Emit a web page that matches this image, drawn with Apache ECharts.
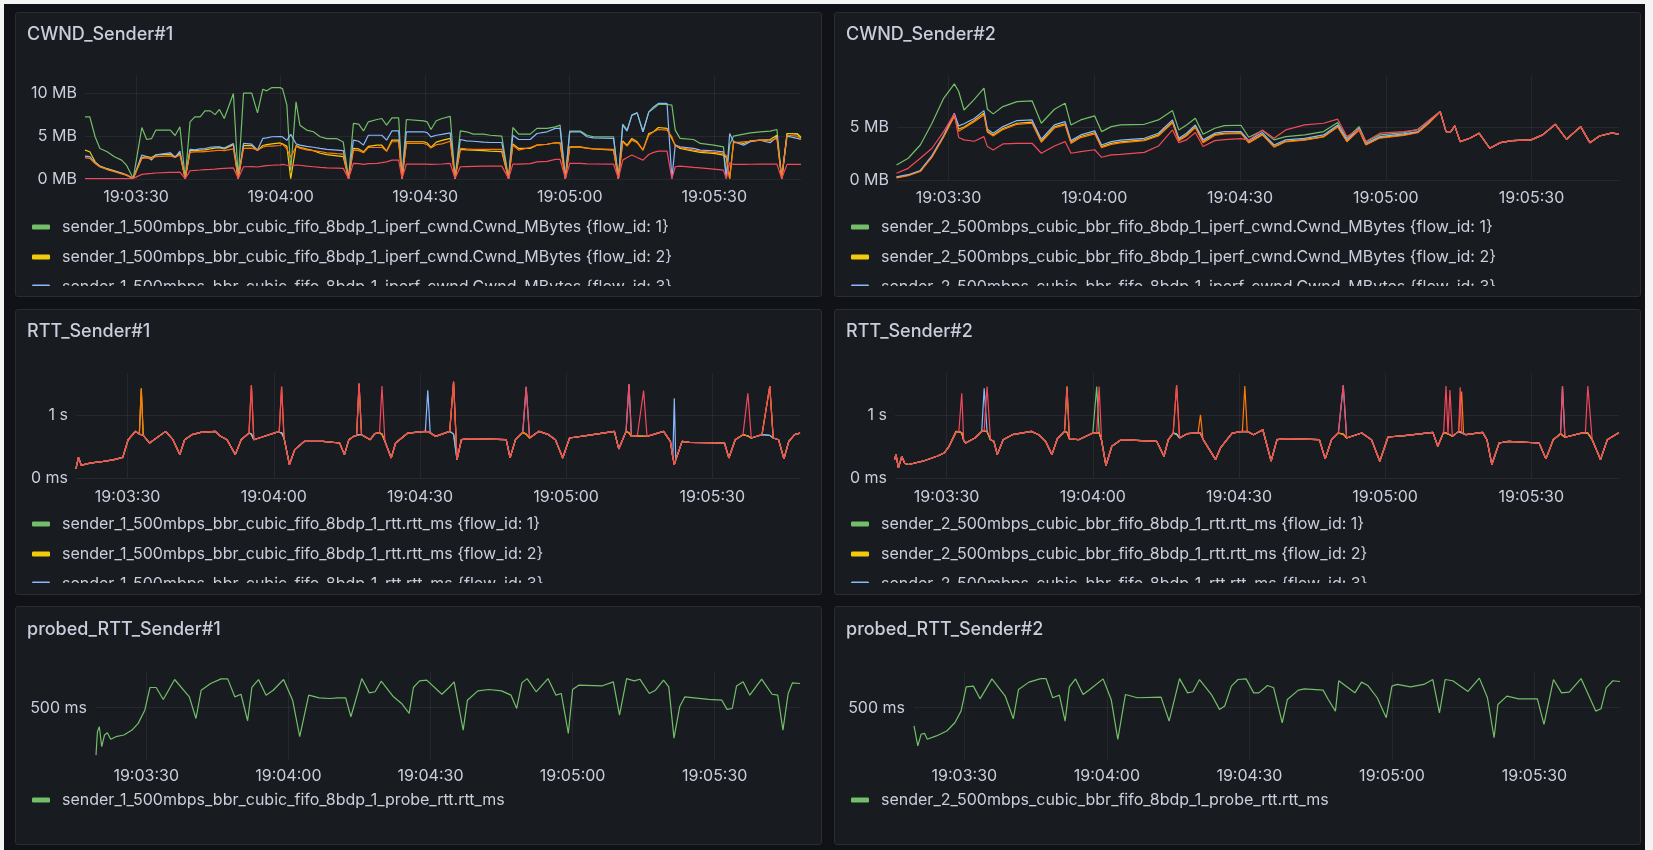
<!DOCTYPE html>
<html>
<head>
<meta charset="utf-8">
<title>Sender dashboard</title>
<script src="https://cdn.jsdelivr.net/npm/echarts@6/dist/echarts.min.js"></script>
<style>
  html, body { margin: 0; padding: 0; width: 1653px; height: 850px; overflow: hidden; background: #f4f4f5; }
  #board { position: absolute; left: 4px; top: 4px; width: 1641px; height: 846px; background: #111217; }
  .panel { position: absolute; box-sizing: border-box; background: #181b1f; border: 1px solid #2a2c31; border-radius: 3px; overflow: hidden; }
  .chart { position: absolute; left: 0; top: 0; width: 805px; }
</style>
</head>
<body>
<div id="board"></div>
<div class="panel" style="left:15px;top:12px;width:807px;height:285px"><div class="chart" id="p1" style="height:273px"></div></div>
<div class="panel" style="left:834px;top:12px;width:807px;height:285px"><div class="chart" id="p2" style="height:273px"></div></div>
<div class="panel" style="left:15px;top:309px;width:807px;height:286px"><div class="chart" id="p3" style="height:273px"></div></div>
<div class="panel" style="left:834px;top:309px;width:807px;height:286px"><div class="chart" id="p4" style="height:273px"></div></div>
<div class="panel" style="left:15px;top:606px;width:807px;height:239px"><div class="chart" id="p5" style="height:237px"></div></div>
<div class="panel" style="left:834px;top:606px;width:807px;height:239px"><div class="chart" id="p6" style="height:237px"></div></div>
<script>
// all times are seconds after 19:03:00

// ---- CWND sender 1 (MB) ----
const cwnd1Time = [19.4,20.4,21.5,22.5,24.0,25.5,27.0,28.0,29.4,31.2,32.2,33.2,34.1,37.1,38.1,39.1,40.2,41.2,42.2,43.3,
  44.3,45.4,46.4,47.3,48.3,50.2,51.2,52.3,54.0,55.2,56.3,57.1,58.2,59.9,60.4,61.3,62.1,63.2,64.0,65.4,
  66.8,68.2,69.6,71.7,73.0,74.1,75.1,76.2,77.2,78.2,80.0,81.0,82.0,83.1,84.5,85.2,86.1,89.7,90.4,91.2,
  92.3,93.5,95.2,96.2,97.3,98.6,100.0,102.1,103.5,105.9,107.3,108.2,109.4,111.8,113.2,115.3,117.0,118.0,119.1,120.0,
  122.2,123.6,124.9,129.1,130.1,131.0,131.9,132.9,134.0,135.2,136.4,137.4,138.4,140.2,141.2,141.9,142.9,145.7,147.1,149.9,
  151.9,152.5,153.2,154.0,156.1,157.5,159.5,161.6,163.0,164.0,165.1,167.2,168.0];
const cwnd1Flow1 = [7.24,7.24,4.92,3.56,3.17,2.59,2.2,1.62,0.05,6.0, 4.6,4.7,5.7,5.7,5.07,6.08,0.05,6.66,7.24,7.24,
  7.94,7.94,7.5,8.1,7.05,9.96,0.05,10.0,10.0,7.7, 10.46,10.27,10.65,10.65,10.5,8.6,1.0,8.99,6.27,5.7,
  5.5,4.92,4.7,4.7,4.3,0.05,6.47,6.4,5.6,6.66, 6.93,7.05,6.27,7.13,7.13,0.05,6.93,6.78,6.66,5.77,
  6.78,7.05,7.3,0.05,5.6,5.5,5.23,5.23,5.1,5.0, 0.05,6.0,5.23,5.23,5.9,5.9,6.08,6.27,0.05,5.58,
  5.58,5.1,4.92,4.92,0.05,6.4,5.7,7.44,7.7,5.5, 7.8,8.2,8.68,8.68,8.6,5.7,4.73,4.6,4.14,3.95,
  3.75,0.3,4.0,5.0,5.23,5.38,5.5,5.58,5.77,0.05, 5.3,5.3,4.9];
const cwnd1Flow2 = [3.37,3.17,2.0,1.5,1.2,0.95,0.7,0.5,0.05,2.5, 2.6,2.5,2.8,2.9,2.6,3.0,0.05,3.3,3.3,3.35,
  3.4,3.5,3.6,3.65,3.5,4.0,0.05,3.9,3.9,3.3, 3.9,4.0,4.1,4.2,4.1,3.8,0.05,3.9,3.7,3.5,
  3.3,3.0,2.85,2.7,2.6,0.05,3.56,3.5,3.17,3.8, 3.95,3.95,3.25,4.53,4.53,0.05,4.34,4.34,4.2,3.67,
  4.3,4.5,4.73,0.05,3.45,3.4,3.35,3.3,3.25,3.2, 0.05,4.07,3.56,3.56,3.95,4.05,4.22,4.22,0.05,3.75,
  3.75,3.6,3.5,3.37,0.05,4.45,3.95,4.73,4.34,3.37, 5.3,5.5,6.0,5.9,4.7,3.95,3.56,3.25,3.1,2.98,
  2.79,2.5,0.05,4.34,4.14,4.45,4.53,4.6,5.1,0.05, 5.3,5.23,4.8];
const cwnd1Flow3 = [2.67,2.6,1.9,1.45,1.15,0.9,0.65,0.45,0.05,2.8, 2.6,2.2,2.8,3.06,2.5,3.25,0.05,3.45,3.4,3.5,
  3.55,3.7,3.75,3.75,3.6,4.14,0.05,4.14,4.07,3.37, 4.73,4.8,4.92,4.95,4.9,4.5,5.2,4.1,3.95,3.8,
  3.7,3.56,3.45,3.37,3.3,0.05,4.53,4.4,3.95,5.1, 5.1,5.1,4.53,5.6,5.6,0.05,5.5,5.5,5.4,4.9,
  5.1,5.2,5.38,0.05,4.6,4.45,4.4,4.3,4.25,4.25, 0.05,5.1,4.6,4.6,5.3,5.5,5.9,5.9,0.05,5.5,
  5.5,4.92,4.8,4.73,0.05,6.27,5.58,7.44,7.7,5.5, 7.8,8.4,8.8,8.8,0.05,3.95,3.75,3.56,3.37,3.29,
  3.17,0.05,5.3,4.34,3.95,4.34,4.53,4.22,4.92,0.05, 5.0,4.73,4.6];
const cwnd1Flow4 = [2.5,2.4,1.8,1.4,1.1,0.85,0.6,0.45,0.05,2.4, 2.45,2.4,2.6,2.7,2.5,2.8,0.05,3.1,3.15,3.15,
  3.2,3.25,3.3,3.35,3.3,3.5,0.05,3.56,3.6,3.37, 3.7,3.83,3.83,3.9,4.07,3.5,2.5,3.8,3.6,3.4,
  3.3,3.2,3.05,2.95,2.9,0.05,3.37,3.3,3.06,3.67, 3.67,3.7,3.25,4.34,4.34,0.05,4.14,4.14,4.0,3.6,
  4.0,4.1,4.4,0.05,3.56,3.5,3.45,3.45,3.45,3.45, 0.05,3.95,3.37,3.67,3.95,4.05,4.22,4.22,0.05,3.67,
  3.67,3.6,3.5,3.45,0.05,4.34,3.83,4.53,4.22,3.37, 5.1,5.5,5.77,5.7,4.9,3.83,3.67,3.37,3.25,3.1,
  2.98,2.7,0.05,4.22,4.34,4.4,4.53,4.45,4.73,0.05, 5.1,5.0,4.6];
const cwnd1Flow5 = [0.05,0.05,0.05,0.05,0.05,0.05,0.05,0.05,0.05,0.54, 0.6,0.65,0.7,0.77,0.77,0.8,0.05,0.96,1.0,1.05,
  1.1,1.12,1.15,1.2,1.24,1.3,0.05,1.43,1.45,1.4, 1.5,1.55,1.6,1.65,1.7,1.6,1.5,1.63,1.6,1.5,
  1.43,1.35,1.3,1.27,1.24,0.05,1.82,1.8,1.7,1.8, 1.82,1.9,2.0,2.2,2.2,0.05,1.74,1.74,1.74,1.7,
  1.72,1.75,1.82,0.05,1.43,1.45,1.47,1.5,1.5,1.5, 0.05,1.74,1.74,1.8,2.0,2.05,2.28,2.28,0.05,1.82,
  1.82,1.76,1.75,1.74,0.05,2.2,2.5,2.79,2.5,2.2, 2.86,3.1,3.25,3.25,0.05,1.43,1.5,1.35,1.3,1.16,
  1.04,0.05,1.9,1.7,1.7,1.72,1.74,1.74,1.74,0.05, 1.7,1.7,1.7];

// ---- CWND sender 2 (MB) ----
const cwnd2Time = [19.3,21.7,24.2,26.6,29.0,31.2,32.1,33.2,35.3,37.3, 38.0,39.2,41.2,44.1,47.2,49.1,51.8,54.0,55.2,57.2,
  60.1,61.5,63.5,65.4,70.3,73.2,76.1,77.4,79.0,80.8, 82.4,84.8,86.8,90.2,91.8,94.6,97.0,99.4,103.3,107.2,
  110.1,112.0,114.5,115.9,118.8,123.7,126.6,129.0,131.2,132.4, 133.4,134.2,135.3,137.3,139.2,141.4,143.6,146.0,149.9,152.3,
  154.9,157.2,160.1,162.0,164.0,166.4,167.9];
// from 19:04:31 on all five flows lie on top of each other
const cwnd2Merged = [4.56,4.56,5.1,3.62,3.93,4.41,2.99,3.52,3.71,3.78,4.25,5.25,3.84,5.03,3.52,4.15,4.41,4.34];
const cwnd2Flow1 = [1.42,2.05,3.3,5.35,7.7,9.06,8.34,6.6,7.6,8.65, 6.67,6.23,6.92,7.39,7.46,5.35,6.67,7.24,5.19,5.66,
  6.04,4.56,5.03,5.19,5.25,5.66,6.54,4.72,5.19,5.82, 4.31,4.88,5.13,5.16,4.03,4.66,3.78,4.09,4.25,4.56,
  5.41,3.93,5.03,3.62,4.25,4.47,4.78,5.66,6.45].concat(cwnd2Merged);
const cwnd2Flow2 = [0.25,0.45,0.85,2.2,4.1,6.1,4.8,5.0,5.6,6.3, 4.6,4.25,4.85,5.35,5.45,3.65,5.0,5.3,3.55,4.1,
  4.45,3.15,3.45,3.6,3.78,4.25,5.5,3.8,4.25,5.05, 3.6,4.3,4.4,4.45,3.55,4.3,3.15,3.65,3.8,4.1,
  5.05,3.65,4.75,3.35,4.0,4.25,4.5,5.45,6.45].concat(cwnd2Merged);
const cwnd2Flow3 = [0.3,0.5,0.9,2.3,4.2,6.3,5.1,5.3,5.8,6.54, 4.78,4.41,5.03,5.6,5.66,3.84,5.19,5.5,3.71,4.25,
  4.63,3.3,3.62,3.75,3.93,4.41,5.66,3.93,4.41,5.19, 3.78,4.41,4.56,4.56,3.71,4.47,3.3,3.78,3.93,4.25,
  5.19,3.78,4.88,3.46,4.09,4.34,4.56,5.5,6.45].concat(cwnd2Merged);
const cwnd2Flow4 = [0.2,0.4,0.8,2.15,4.05,6.0,4.6,4.9,5.5,6.13, 4.5,4.15,4.75,5.25,5.35,3.55,4.9,5.2,3.45,4.0,
  4.35,3.05,3.35,3.5,3.7,4.15,5.4,3.7,4.15,4.95, 3.5,4.2,4.35,4.4,3.5,4.25,3.1,3.6,3.75,4.05,
  5.0,3.6,4.7,3.3,3.95,4.2,4.45,5.4,6.45].concat(cwnd2Merged);
const cwnd2Flow5 = [0.63,1.1,2.05,2.99,4.56,6.23,4.0,3.78,3.65,4.09, 3.15,2.83,3.4,3.46,3.46,2.52,3.2,3.62,2.52,2.68,
  2.85,2.14,2.36,2.42,2.6,3.2,4.72,3.52,3.78,4.47, 3.15,3.71,3.8,3.9,3.75,4.72,3.93,4.72,5.19,5.35,
  5.73,4.09,4.78,3.62,4.41,4.56,4.72,5.66,6.45].concat(cwnd2Merged);

// ---- RTT sender 1 (ms): shared curve + the peaks each flow shows ----
const rtt1Time = [19.4,19.9,20.5,21.5,23.0,25.0,27.0,29.0,30.1,31.6, 32.4,32.8,33.2,34.5,37.8,39.3,40.7,41.7,43.2,45.0,
  48.0,48.9,50.4,52.1,53.3,54.9,55.4,55.9,57.6,60.5, 61.1,61.6,62.1,63.2,64.3,66.3,70.1,73.5,74.5,75.4,
  76.4,77.0,77.5,78.0,79.8,80.7,81.7,82.2,82.8,84.1, 85.0,87.5,91.1,91.6,92.1,93.2,96.1,96.9,97.6,98.5,
  100.0,107.7,108.5,109.6,111.1,111.8,112.5,114.4,116.4,117.8, 119.3,120.7,124.1,129.9,130.8,132.3,132.9,133.4,134.6,135.9,
  136.6,140.0,141.4,141.9,142.2,142.5,143.8,145.3,152.5,153.4,154.7,156.3, 157.3,158.0,160.2,161.8,162.5,163.6,164.7,165.7,166.9,168.0];
const rtt1Base = [150,330,200,225,245,265,290,330,610,744, 700,690,680,558,744,611,373,611,691,728,
  744,675,611,373,611,717,700,611,654,728, 730,720,638,215,453,585,585,558,373,611,
  664,680,690,691,611,707,720,700,585,320, 558,717,744,740,720,664,744,700,294,611,
  627,611,320,611,728,700,638,744,691,611, 320,638,675,744,463,744,720,664,670,665,
  664,744,585,330,215,290,585,569,558,320,611,691, 670,638,691,680,638,611,305,585,691,717];
const rtt1Peaks1 = [[77.5, 1505]];
const rtt1Peaks2 = [[32.8, 1431], [96.9, 1530], [161.8, 1460]];
const rtt1Peaks3 = [[91.6, 1400], [111.8, 1450], [132.9, 1495], [142.2, 1273]];
const rtt1Peaks4 = [[32.8, 1425], [55.4, 1480], [61.6, 1455], [77.5, 1508], [96.9, 1537], [161.8, 1468]];
const rtt1Peaks5 = [[55.4, 1484], [61.6, 1458], [77.5, 1511], [82.2, 1468], [96.9, 1537], [111.8, 1458],
  [132.9, 1500], [135.9, 1394], [157.3, 1352], [161.8, 1468]];

// ---- RTT sender 2 (ms) ----
const rtt2Time = [19.3,19.6,20.1,20.8,21.4,22.2,25.1,28.0,29.5,30.5, 31.9,32.5,33.1,33.5,33.9,35.8,37.2,37.7,38.3,39.0,
  39.7,40.4,41.6,43.5,47.4,48.9,50.3,51.6,52.7,54.2, 54.7,55.2,57.1,60.0,60.8,61.3,61.8,62.7,63.9,65.8,
  73.1,74.6,75.5,76.5,77.2,77.8,79.4,81.6,82.1,82.6, 85.2,86.2,88.6,90.7,91.2,91.7,93.0,94.9,96.6,97.8,
  99.7,106.5,107.7,109.0,110.4,111.4,112.1,115.2,117.2,118.9, 120.6,124.0,129.8,130.8,132.0,132.5,132.9,133.3,133.8,135.1,
  135.4,135.7,136.1,136.6,140.0,140.9,141.9,143.4,145.3,151.6, 153.0,154.5,156.0,156.4,156.9,160.3,161.1,161.6,162.0,162.5,
  164.2,165.6,167.6,168.0];
const rtt2Base = [294,373,162,347,231,215,268,347,400,506, 728,740,720,600,558,638,744,750,740,611,
  585,373,611,691,744,691,585,373,622,744, 730,622,611,717,720,720,600,199,506,611,
  585,347,611,717,700,640,707,720,715,620, 294,479,717,744,740,744,691,770,268,611,
  627,611,305,611,717,700,638,717,611,268, 654,675,728,506,728,715,700,690,664,744,
  740,720,700,691,728,611,215,558,585,558, 305,611,707,700,650,717,720,715,700,611,
  294,611,707,715];
const rtt2Peaks1 = [[60.8, 1458]];
const rtt2Peaks2 = [[31.9, 745], [54.7, 1458]];
const rtt2Peaks3 = [[37.7, 1431], [111.4, 1480], [156.4, 1465]];
const rtt2Peaks4 = [[77.2, 1480], [82.1, 1008], [91.2, 1468], [135.7, 1378]];
const rtt2Peaks5 = [[33.1, 1352], [38.3, 1458], [54.7, 1458], [61.3, 1458], [77.2, 1484], [111.4, 1484],
  [132.5, 1468], [133.3, 1405], [135.4, 1447], [156.4, 1468], [161.6, 1468], [162.0, 1447]];

// ---- probed RTT (ms) ----
const probe1Time = [19.4,19.7,20.1,20.6,21.2,21.8,22.5,23.6,25.3,27.0,28.3,29.7,30.8,32.1,33.6,36.0,39.1,40.5,41.6,43.6,
  45.8,47.2,48.7,50.0,51.4,52.3,53.7,55.3,56.8,59.0,60.9,62.4,64.3,66.5,68.8,70.4,72.1,73.2,75.5,77.1,
  78.3,79.6,82.2,83.9,85.5,86.4,87.7,89.2,92.4,93.9,95.0,96.9,97.8,100.0,102.3,105.0,107.0,108.2,109.3,110.4,
  112.3,114.8,116.5,117.6,119.1,120.0,121.3,126.3,128.6,129.9,131.4,133.0,134.2,136.2,137.5,139.2,140.3,141.4,142.6,143.7,
  148.7,151.5,152.6,153.7,154.6,156.0,157.4,159.9,162.1,163.3,164.4,165.5,166.4,168.0];
const probe1Rtt = [191,343,376,246,322,337,294,311,322,354,398,484,632,632,554,684,571,430,614,658,
  688,688,571,588,415,632,684,582,614,684,549,311,582,564,560,564,564,441,690,597,
  604,673,571,528,463,632,675,680,588,632,669,354,549,610,619,610,582,495,662,690,
  604,690,582,593,333,619,647,643,669,452,690,675,686,593,614,680,636,302,506,571,
  554,549,489,495,641,669,582,686,588,582,354,593,662,658];
const probe2Time = [19.4,20.2,20.9,21.6,22.2,24.1,26.3,28.0,29.3,30.4,31.9,33.3,35.8,38.6,40.3,41.4,43.6,46.1,47.2,48.6,
  50.0,51.2,52.1,53.4,55.0,56.4,59.2,60.9,62.3,63.9,66.4,71.4,73.1,75.3,77.0,78.1,79.5,82.0,83.7,84.8,
  86.2,87.6,89.3,90.9,92.0,93.8,95.1,96.9,98.0,100.3,101.6,105.5,106.6,108.1,108.8,112.2,113.6,114.9,116.9,118.8,
  120.0,121.1,123.9,126.7,128.6,130.0,131.2,132.8,136.0,138.4,140.1,141.5,142.3,144.2,146.7,150.6,152.0,154.0,155.7,157.3,
  159.8,162.9,164.0,165.1,166.5,168.0];
const probe2Rtt = [381,251,327,333,294,316,348,402,478,636,641,558,688,576,428,619,667,690,690,565,
  582,413,636,688,586,619,688,554,294,586,565,569,413,690,597,604,684,586,489,511,
  641,684,688,597,597,645,630,402,554,615,623,615,554,478,676,597,667,645,565,435,
  641,652,636,652,684,467,684,676,606,693,565,304,521,576,558,558,391,684,597,602,
  690,478,493,630,676,671];

const FONT = 'Inter, "Noto Sans", "DejaVu Sans", sans-serif';
const TEXT = '#ccccdc';
const GRID_LINE = 'rgba(204, 204, 220, 0.08)';
const FLOW_COLORS = ['#73BF69', '#F2CC0C', '#8AB8FF', '#FF780A', '#F2495C'];
const T0 = Date.UTC(2023, 0, 1, 19, 3, 0);
const ts = s => T0 + Math.round(s * 1000);

function withPeaks(base, times, peaks) {
  const out = base.slice();
  peaks.forEach(p => { out[times.indexOf(p[0])] = p[1]; });
  return out;
}

function pad(n) { return n < 10 ? '0' + n : '' + n; }
function timeLabel(v) {
  if (v % 30000 !== 0) return '';
  const d = new Date(v);
  return pad(d.getUTCHours()) + ':' + pad(d.getUTCMinutes()) + ':' + pad(d.getUTCSeconds());
}

function flowNames(prefix) {
  return [1, 2, 3, 4, 5].map(i => prefix + ' {flow_id: ' + i + '}');
}

const panels = [
  { id: 'p1', title: 'CWND_Sender#1', grid: { left: 69, right: 20, top: 63, height: 103 },
    yAxis: { min: 0, max: 12, interval: 5, fmt: v => v + ' MB' },
    times: cwnd1Time, values: [cwnd1Flow1, cwnd1Flow2, cwnd1Flow3, cwnd1Flow4, cwnd1Flow5],
    names: flowNames('sender_1_500mbps_bbr_cubic_fifo_8bdp_1_iperf_cwnd.Cwnd_MBytes'), legendTop: 204, xMargin: 10 },
  { id: 'p2', title: 'CWND_Sender#2', grid: { left: 62, right: 21, top: 63, height: 104 },
    yAxis: { min: 0, max: 9.8, interval: 5, fmt: v => v + ' MB' },
    times: cwnd2Time, values: [cwnd2Flow1, cwnd2Flow2, cwnd2Flow3, cwnd2Flow4, cwnd2Flow5],
    names: flowNames('sender_2_500mbps_cubic_bbr_fifo_8bdp_1_iperf_cwnd.Cwnd_MBytes'), legendTop: 204, xMargin: 10 },
  { id: 'p3', title: 'RTT_Sender#1', grid: { left: 60, right: 21, top: 63, height: 105 },
    yAxis: { min: 0, max: 1675, interval: 1000, fmt: v => (v === 0 ? '0 ms' : v / 1000 + ' s') },
    times: rtt1Time,
    values: [rtt1Peaks1, rtt1Peaks2, rtt1Peaks3, rtt1Peaks4, rtt1Peaks5].map(p => withPeaks(rtt1Base, rtt1Time, p)),
    names: flowNames('sender_1_500mbps_bbr_cubic_fifo_8bdp_1_rtt.rtt_ms'), legendTop: 204, xMargin: 11 },
  { id: 'p4', title: 'RTT_Sender#2', grid: { left: 60, right: 21, top: 63, height: 105 },
    yAxis: { min: 0, max: 1675, interval: 1000, fmt: v => (v === 0 ? '0 ms' : v / 1000 + ' s') },
    times: rtt2Time,
    values: [rtt2Peaks1, rtt2Peaks2, rtt2Peaks3, rtt2Peaks4, rtt2Peaks5].map(p => withPeaks(rtt2Base, rtt2Time, p)),
    names: flowNames('sender_2_500mbps_cubic_bbr_fifo_8bdp_1_rtt.rtt_ms'), legendTop: 204, xMargin: 11 },
  { id: 'p5', title: 'probed_RTT_Sender#1', grid: { left: 80, right: 21, top: 65, height: 88 },
    yAxis: { min: 159, max: 733, only: 500, fmt: v => v + ' ms' },
    times: probe1Time, values: [probe1Rtt],
    names: ['sender_1_500mbps_bbr_cubic_fifo_8bdp_1_probe_rtt.rtt_ms'], legendTop: 183, xMargin: 8, titleTop: 12 },
  { id: 'p6', title: 'probed_RTT_Sender#2', grid: { left: 79, right: 20, top: 65, height: 88 },
    yAxis: { min: 159, max: 733, only: 500, fmt: v => v + ' ms' },
    times: probe2Time, values: [probe2Rtt],
    names: ['sender_2_500mbps_cubic_bbr_fifo_8bdp_1_probe_rtt.rtt_ms'], legendTop: 183, xMargin: 8, titleTop: 12 }
];

function buildOption(p) {
  const y = p.yAxis;
  const yAxis = {
    type: 'value', min: y.min, max: y.max,
    axisLine: { show: false }, axisTick: { show: false },
    axisLabel: { color: TEXT, fontSize: 16, fontFamily: FONT, margin: 8, showMaxLabel: false, formatter: y.fmt },
    splitLine: { show: true, showMaxLine: false, lineStyle: { color: GRID_LINE, width: 1 } }
  };
  if (y.interval) yAxis.interval = y.interval;
  if (y.only) {
    yAxis.axisLabel.customValues = [y.only];
    yAxis.axisLabel.formatter = v => (v === y.only ? y.fmt(v) : '');
    yAxis.axisLabel.margin = 9;
    yAxis.splitLine.show = false;
  }
  const series = p.values.map((vals, i) => {
    const s = {
      type: 'line', name: p.names[i],
      data: p.times.map((t, k) => [ts(t), vals[k]]),
      showSymbol: false, symbol: 'none',
      lineStyle: { width: 1.2, color: FLOW_COLORS[p.values.length === 1 ? 0 : i] },
      itemStyle: { color: FLOW_COLORS[p.values.length === 1 ? 0 : i] },
      z: 2 + i
    };
    if (y.only) {
      s.markLine = { silent: true, symbol: 'none', label: { show: false }, animation: false,
        lineStyle: { color: GRID_LINE, type: 'solid', width: 1 }, data: [{ yAxis: y.only }], z: 1 };
    }
    return s;
  });
  return {
    animation: false,
    useUTC: true,
    backgroundColor: 'transparent',
    title: { text: p.title, left: 11, top: p.titleTop || 11, padding: 0,
      textStyle: { color: TEXT, fontSize: 18, fontWeight: 500, fontFamily: FONT, lineHeight: 22 } },
    legend: {
      orient: 'vertical', left: 16, top: p.legendTop, height: 140, padding: 0,
      itemGap: 10, itemWidth: 18, itemHeight: 5, icon: 'roundRect', selectedMode: false,
      data: p.names.slice(0, 3),
      textStyle: { color: TEXT, fontSize: 16, fontFamily: FONT, lineHeight: 20, padding: [0, 0, 0, 7] }
    },
    grid: Object.assign({ outerBoundsMode: 'none' }, p.grid),
    xAxis: {
      type: 'time', min: ts(19.4), max: ts(168.0), minInterval: 30500, maxInterval: 30500,
      axisLine: { show: false }, axisTick: { show: false },
      axisLabel: { color: TEXT, fontSize: 16, fontFamily: FONT, margin: p.xMargin, formatter: timeLabel },
      splitLine: { show: true, showMinLine: false, showMaxLine: false, lineStyle: { color: GRID_LINE, width: 1 } }
    },
    yAxis: yAxis,
    series: series
  };
}

panels.forEach(p => {
  const chart = echarts.init(document.getElementById(p.id), null, { renderer: 'canvas' });
  chart.setOption(buildOption(p));
});
</script>
</body>
</html>
